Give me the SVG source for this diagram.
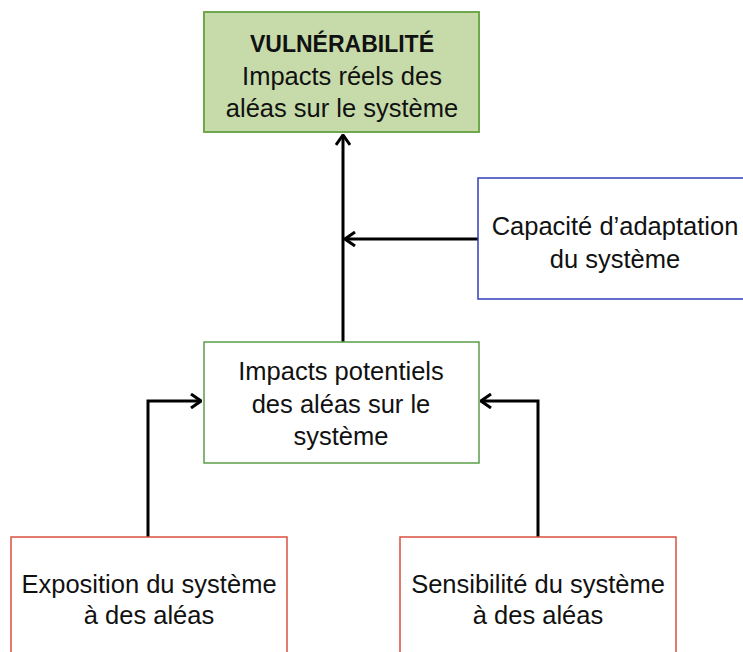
<svg xmlns="http://www.w3.org/2000/svg" width="743" height="652" viewBox="0 0 743 652">
  <style>
    .lbl { font-family: "Liberation Sans", Arial, sans-serif; font-size: 25.5px; fill: #111; text-anchor: middle; }
    .bold { font-weight: bold; font-size: 23px; }
    .wire { fill: none; stroke: #000; stroke-width: 3; }
  </style>
  <defs>
    <marker id="chevron" viewBox="0 0 12 16" refX="11" refY="8" markerWidth="12" markerHeight="16" markerUnits="userSpaceOnUse" orient="auto">
      <path d="M1,1 L11,8 L1,15" fill="none" stroke="#000" stroke-width="3"/>
    </marker>
  </defs>
  <rect width="743" height="652" fill="#fff"/>

  <g id="connectors">
    <path class="wire" d="M343,342 L343,135" marker-end="url(#chevron)"/>
    <path class="wire" d="M478,239 L345,239" marker-end="url(#chevron)"/>
    <path class="wire" d="M148,537 L148,401 L201,401" marker-end="url(#chevron)"/>
    <path class="wire" d="M538,537 L538,401 L481,401" marker-end="url(#chevron)"/>
  </g>

  <g id="vulnerabilite">
    <rect x="204" y="12" width="275" height="120" fill="#c6dba9" stroke="#6fa84c" stroke-width="2"/>
    <text class="lbl bold" x="342" y="52">VULNÉRABILITÉ</text>
    <text class="lbl" x="342" y="85">Impacts réels des</text>
    <text class="lbl" x="342" y="117">aléas sur le système</text>
  </g>

  <g id="capacite">
    <rect x="478" y="178" width="280" height="121" fill="#fff" stroke="#2f3fbf" stroke-width="1.5"/>
    <text class="lbl" x="615" y="235">Capacité d’adaptation</text>
    <text class="lbl" x="615" y="268">du système</text>
  </g>

  <g id="impacts-potentiels">
    <rect x="204" y="342" width="275" height="121" fill="#fff" stroke="#5b9e48" stroke-width="1.5"/>
    <text class="lbl" x="341" y="380">Impacts potentiels</text>
    <text class="lbl" x="341" y="413">des aléas sur le</text>
    <text class="lbl" x="341" y="445">système</text>
  </g>

  <g id="exposition">
    <rect x="11" y="537" width="276" height="130" fill="#fff" stroke="#d9503f" stroke-width="1.5"/>
    <text class="lbl" x="149" y="593">Exposition du système</text>
    <text class="lbl" x="149" y="624">à des aléas</text>
  </g>

  <g id="sensibilite">
    <rect x="400" y="537" width="276" height="130" fill="#fff" stroke="#d9503f" stroke-width="1.5"/>
    <text class="lbl" x="538" y="593">Sensibilité du système</text>
    <text class="lbl" x="538" y="624">à des aléas</text>
  </g>
</svg>
